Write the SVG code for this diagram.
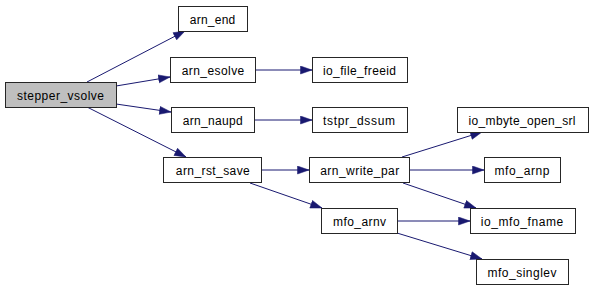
<svg xmlns="http://www.w3.org/2000/svg" width="593" height="291" viewBox="0 0 593 291">
  <style>
    .node rect { fill: #ffffff; stroke: #262626; stroke-width: 1; }
    .node.root rect { fill: #bfbfbf; }
    .node text { font-family: "Liberation Sans", Arial, sans-serif; font-size: 12px; fill: #000; text-anchor: middle; }
    .edges line { stroke: #191970; stroke-width: 1; fill: none; marker-end: url(#arrow); }
  </style>
  <defs>
    <marker id="arrow" markerUnits="userSpaceOnUse" markerWidth="13" markerHeight="10" refX="12" refY="4.5" orient="auto">
      <path d="M0.5,0.5 L12,4.5 L0.5,8.5 z" fill="#191970" stroke="#191970" stroke-width="0.5"/>
    </marker>
  </defs>

  <!-- call edges -->
  <g class="edges">
    <line x1="87" y1="82" x2="185" y2="31"/>
    <line x1="116" y1="86" x2="170" y2="77"/>
    <line x1="116" y1="104" x2="171" y2="112"/>
    <line x1="87" y1="107" x2="186" y2="157"/>
    <line x1="255" y1="70" x2="312" y2="70"/>
    <line x1="254" y1="120" x2="312" y2="120"/>
    <line x1="261" y1="170" x2="309" y2="170"/>
    <line x1="250" y1="183" x2="322" y2="208"/>
    <line x1="402" y1="157" x2="482" y2="132"/>
    <line x1="409" y1="170" x2="484" y2="170"/>
    <line x1="403" y1="183" x2="476" y2="208"/>
    <line x1="397" y1="221" x2="470" y2="221"/>
    <line x1="397" y1="233" x2="482" y2="259"/>
  </g>

  <g id="stepper_vsolve" class="node root">
    <rect x="5.5" y="82.5" width="111" height="25"/>
    <text x="60.5" y="99.5" textLength="87" lengthAdjust="spacing">stepper_vsolve</text>
  </g>
  <g id="arn_end" class="node">
    <rect x="178.5" y="6.5" width="69" height="25"/>
    <text x="212.5" y="23.5" textLength="45.5" lengthAdjust="spacing">arn_end</text>
  </g>
  <g id="arn_esolve" class="node">
    <rect x="170.5" y="57.5" width="85" height="25"/>
    <text x="213" y="74.5" textLength="62.5" lengthAdjust="spacing">arn_esolve</text>
  </g>
  <g id="arn_naupd" class="node">
    <rect x="171.5" y="107.5" width="83" height="25"/>
    <text x="212.8" y="124.5" textLength="60" lengthAdjust="spacing">arn_naupd</text>
  </g>
  <g id="arn_rst_save" class="node">
    <rect x="163.5" y="157.5" width="98" height="25"/>
    <text x="212.8" y="174.5" textLength="74" lengthAdjust="spacing">arn_rst_save</text>
  </g>
  <g id="io_file_freeid" class="node">
    <rect x="312.5" y="57.5" width="95" height="25"/>
    <text x="359.5" y="74.5" textLength="73" lengthAdjust="spacing">io_file_freeid</text>
  </g>
  <g id="tstpr_dssum" class="node">
    <rect x="312.5" y="107.5" width="95" height="25"/>
    <text x="359" y="124.5" textLength="72" lengthAdjust="spacing">tstpr_dssum</text>
  </g>
  <g id="arn_write_par" class="node">
    <rect x="309.5" y="157.5" width="100" height="25"/>
    <text x="359.7" y="174.5" textLength="79" lengthAdjust="spacing">arn_write_par</text>
  </g>
  <g id="mfo_arnv" class="node">
    <rect x="321.5" y="208.5" width="76" height="25"/>
    <text x="359.5" y="225.5" textLength="53" lengthAdjust="spacing">mfo_arnv</text>
  </g>
  <g id="io_mbyte_open_srl" class="node">
    <rect x="457.5" y="107.5" width="131" height="25"/>
    <text x="522" y="124.5" textLength="107" lengthAdjust="spacing">io_mbyte_open_srl</text>
  </g>
  <g id="mfo_arnp" class="node">
    <rect x="484.5" y="157.5" width="76" height="25"/>
    <text x="522" y="174.5" textLength="55" lengthAdjust="spacing">mfo_arnp</text>
  </g>
  <g id="io_mfo_fname" class="node">
    <rect x="470.5" y="208.5" width="105" height="25"/>
    <text x="522" y="225.5" textLength="82.5" lengthAdjust="spacing">io_mfo_fname</text>
  </g>
  <g id="mfo_singlev" class="node">
    <rect x="476.5" y="259.5" width="92" height="25"/>
    <text x="522" y="276.5" textLength="69" lengthAdjust="spacing">mfo_singlev</text>
  </g>
</svg>
